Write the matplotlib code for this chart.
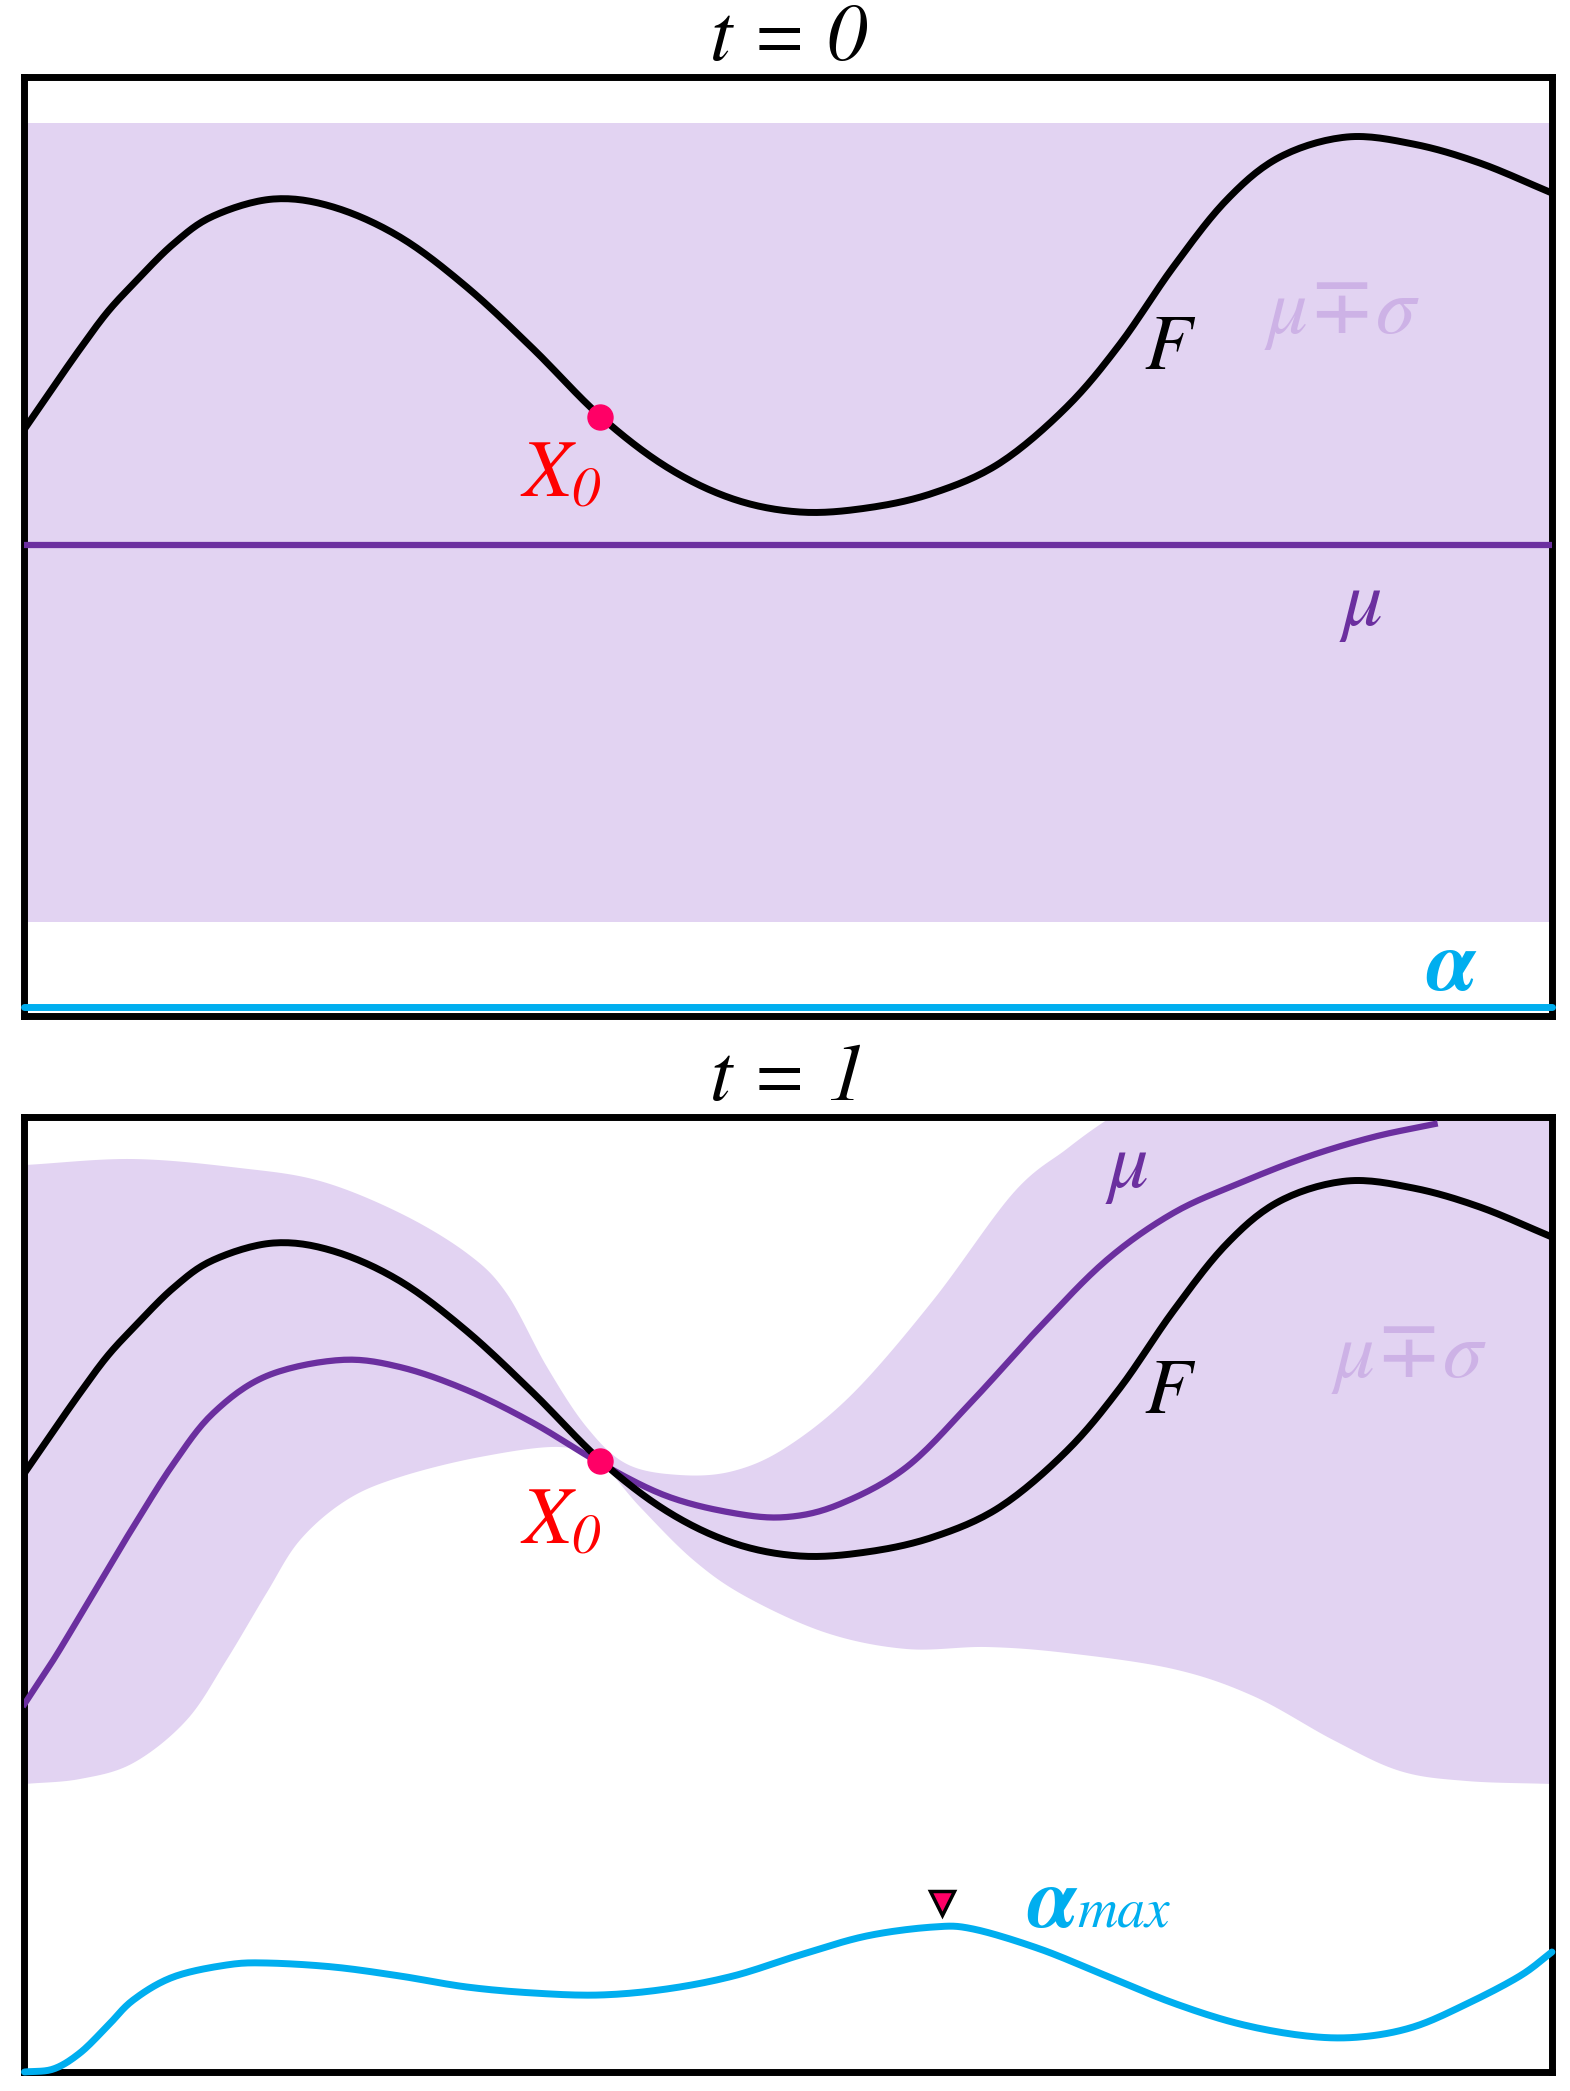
import numpy as np
import matplotlib
matplotlib.use("Agg")
import matplotlib.pyplot as plt

plt.rcParams['font.family'] = ['STIXGeneral', 'DejaVu Sans']
plt.rcParams['mathtext.fontset'] = 'custom'
plt.rcParams['mathtext.rm'] = 'STIXGeneral:italic'
plt.rcParams['mathtext.it'] = 'STIXGeneral:italic'
plt.rcParams['mathtext.bf'] = 'STIXGeneral:italic:bold'

# objective F (same in both panels)
f_x = [0.0, 0.0189, 0.0363, 0.0538, 0.0712, 0.0974, 0.1236, 0.1629, 0.2022, 0.2458,
       0.2895, 0.3331, 0.3768, 0.4204, 0.4640, 0.5077, 0.5513, 0.5950, 0.6386, 0.6823,
       0.7172, 0.7521, 0.7870, 0.8219, 0.8656, 0.9092, 0.9528, 1.0]
f_y = [1.16, 1.58, 1.96, 2.32, 2.61, 3.01, 3.29, 3.46, 3.38, 3.08,
       2.58, 1.96, 1.29, 0.78, 0.46, 0.33, 0.37, 0.52, 0.82, 1.38,
       2.01, 2.78, 3.45, 3.88, 4.08, 4.01, 3.82, 3.52]

# t = 0 prior
mu0 = 0.0
band0_hi = 4.22
band0_lo = -3.77
alpha0 = -4.615

# t = 1 posterior mean
mu1_x = [0.0, 0.0189, 0.0363, 0.0538, 0.0712, 0.0974, 0.1236, 0.1585, 0.2065, 0.2458,
         0.2895, 0.3331, 0.3768, 0.4204, 0.4640, 0.4990, 0.5339, 0.5775, 0.6211, 0.6648,
         0.7085, 0.7521, 0.7957, 0.8394, 0.8830, 0.9232]
mu1_y = [-1.15, -0.71, -0.27, 0.18, 0.62, 1.25, 1.76, 2.13, 2.29, 2.22,
         1.99, 1.66, 1.26, 0.93, 0.76, 0.72, 0.85, 1.22, 1.89, 2.62,
         3.29, 3.76, 4.06, 4.32, 4.52, 4.65]

# t = 1 confidence band
hi1_x = [0.0, 0.0712, 0.1411, 0.1935, 0.2458, 0.2895, 0.3155, 0.3421, 0.3680, 0.3943,
         0.4291, 0.4640, 0.4990, 0.5426, 0.5950, 0.6473, 0.6823, 0.7085, 0.7434, 1.0]
hi1_y = [4.24, 4.30, 4.21, 4.08, 3.76, 3.36, 2.96, 2.22, 1.62, 1.25,
         1.14, 1.18, 1.42, 1.96, 2.89, 3.96, 4.40, 4.69, 5.02, 5.2]
lo1_x = [0.0, 0.0363, 0.0712, 0.1062, 0.1323, 0.1585, 0.1804, 0.2109, 0.2458, 0.2982,
         0.3506, 0.3768, 0.4030, 0.4379, 0.4728, 0.5252, 0.5775, 0.6299, 0.6823, 0.7521,
         0.8044, 0.8568, 0.9005, 0.9441, 1.0]
lo1_y = [-1.95, -1.90, -1.74, -1.31, -0.71, -0.04, 0.49, 0.89, 1.12, 1.32,
         1.42, 1.26, 0.82, 0.29, -0.08, -0.44, -0.60, -0.58, -0.64, -0.80,
         -1.07, -1.51, -1.82, -1.92, -1.95]

# acquisition function at t = 1
a1_x = [0.0, 0.0189, 0.0363, 0.0538, 0.0712, 0.0974, 0.1323, 0.1585, 0.2022, 0.2458,
        0.2895, 0.3331, 0.3768, 0.4204, 0.4640, 0.5077, 0.5513, 0.5950, 0.6211, 0.6648,
        0.7085, 0.7521, 0.7957, 0.8394, 0.8743, 0.9092, 0.9441, 0.9790, 1.0]
a1_y = [-4.83, -4.80, -4.64, -4.38, -4.11, -3.88, -3.76, -3.74, -3.78, -3.87,
        -3.98, -4.04, -4.06, -4.00, -3.87, -3.66, -3.47, -3.38, -3.40, -3.60,
        -3.87, -4.14, -4.35, -4.47, -4.48, -4.38, -4.15, -3.87, -3.63]

x0 = (0.377, 1.28)
amax = (0.6006, -3.14)

band_c = '#e2d3f2'
mu_c = '#6b2f9f'
alpha_c = '#00aeef'
pt_c = '#ff0066'
lbl_c = '#cdb2e6'


def smooth(x, y, n=16):
    # catmull-rom through the read points, only for drawing
    p = np.column_stack([x, y]).astype(float)
    p = np.vstack([2 * p[0] - p[1], p, 2 * p[-1] - p[-2]])
    t = np.linspace(0, 1, n, endpoint=False)[:, None]
    out = []
    for i in range(1, len(p) - 2):
        p0, p1, p2, p3 = p[i - 1], p[i], p[i + 1], p[i + 2]
        out.append(0.5 * (2 * p1 + (p2 - p0) * t + (2 * p0 - 5 * p1 + 4 * p2 - p3) * t ** 2
                          + (3 * p1 - p0 - 3 * p2 + p3) * t ** 3))
    out.append(p[-2][None])
    out = np.vstack(out)
    return out[:, 0], out[:, 1]


fig = plt.figure(figsize=(15.7, 20.91), dpi=100)
ax1 = fig.add_axes([0.0156, 0.5141, 0.9729, 0.4493])
ax2 = fig.add_axes([0.0156, 0.00909, 0.9729, 0.4567])

for ax in (ax1, ax2):
    ax.set_xlim(0, 1)
    ax.set_xticks([])
    ax.set_yticks([])
    for s in ax.spines.values():
        s.set_linewidth(5)
        s.set_zorder(1)
ax1.set_ylim(-4.71, 4.685)
ax2.set_ylim(-4.83, 4.72)

fx, fy = smooth(f_x, f_y)

# --- t = 0 ---
ax1.axhspan(band0_lo, band0_hi, color=band_c, lw=0, zorder=0)
ax1.axhline(mu0, color=mu_c, lw=4.5, zorder=2)
ax1.plot(fx, fy, color='black', lw=5, zorder=3)
ax1.plot([0, 1], [alpha0, alpha0], color=alpha_c, lw=5, zorder=4,
         clip_on=False, solid_capstyle='round')
ax1.plot(*x0, 'o', color=pt_c, ms=18, zorder=5)
ax1.text(0.351, 0.48, r'$X_{0}$', color='#ff0000', fontsize=58,
         ha='center', va='baseline')
ax1.text(0.7486, 1.76, 'F', fontsize=56, style='italic', ha='center', va='baseline')
ax1.text(0.8626, 2.12, 'μ∓σ', color=lbl_c, fontsize=58, style='italic',
         ha='center', va='baseline')
ax1.text(0.8763, -0.80, 'μ', color=mu_c, fontsize=58, style='italic',
         ha='center', va='baseline')
ax1.text(0.934, -4.45, 'α', color=alpha_c, fontsize=62, style='italic',
         weight='bold', ha='center', va='baseline')
ax1.set_title('t = 0', fontsize=58, style='italic', pad=1)

# --- t = 1 ---
hx, hy = smooth(hi1_x, hi1_y)
lx, ly = smooth(lo1_x, lo1_y)
ax2.fill(np.concatenate([hx, lx[::-1]]), np.concatenate([hy, ly[::-1]]),
         color=band_c, lw=0, zorder=0)
mx, my = smooth(mu1_x, mu1_y)
ax2.plot(mx, my, color=mu_c, lw=4.5, zorder=2)
ax2.plot(fx, fy, color='black', lw=5, zorder=3)
ax, ay = smooth(a1_x, a1_y)
ax2.plot(ax, ay, color=alpha_c, lw=5, zorder=4, clip_on=False,
         solid_capstyle='round')
ax2.plot(*x0, 'o', color=pt_c, ms=18, zorder=5)
ax2.plot(*amax, 'v', color=pt_c, mec='black', mew=2.5, ms=17, zorder=5)
ax2.text(0.351, 0.45, r'$X_{0}$', color='#ff0000', fontsize=58,
         ha='center', va='baseline')
ax2.text(0.7486, 1.76, 'F', fontsize=56, style='italic', ha='center', va='baseline')
ax2.text(0.9065, 2.12, 'μ∓σ', color=lbl_c, fontsize=58, style='italic',
         ha='center', va='baseline')
ax2.text(0.723, 4.02, 'μ', color=mu_c, fontsize=58, style='italic',
         ha='center', va='baseline')
ax2.text(0.689, -3.38, 'α', color=alpha_c, fontsize=62, style='italic',
         weight='bold', ha='right', va='baseline')
ax2.text(0.689, -3.38, 'max', color=alpha_c, fontsize=40, style='italic',
         ha='left', va='baseline')
ax2.set_title('t = 1', fontsize=58, style='italic', pad=1)

fig.savefig('out.png', dpi=100)
